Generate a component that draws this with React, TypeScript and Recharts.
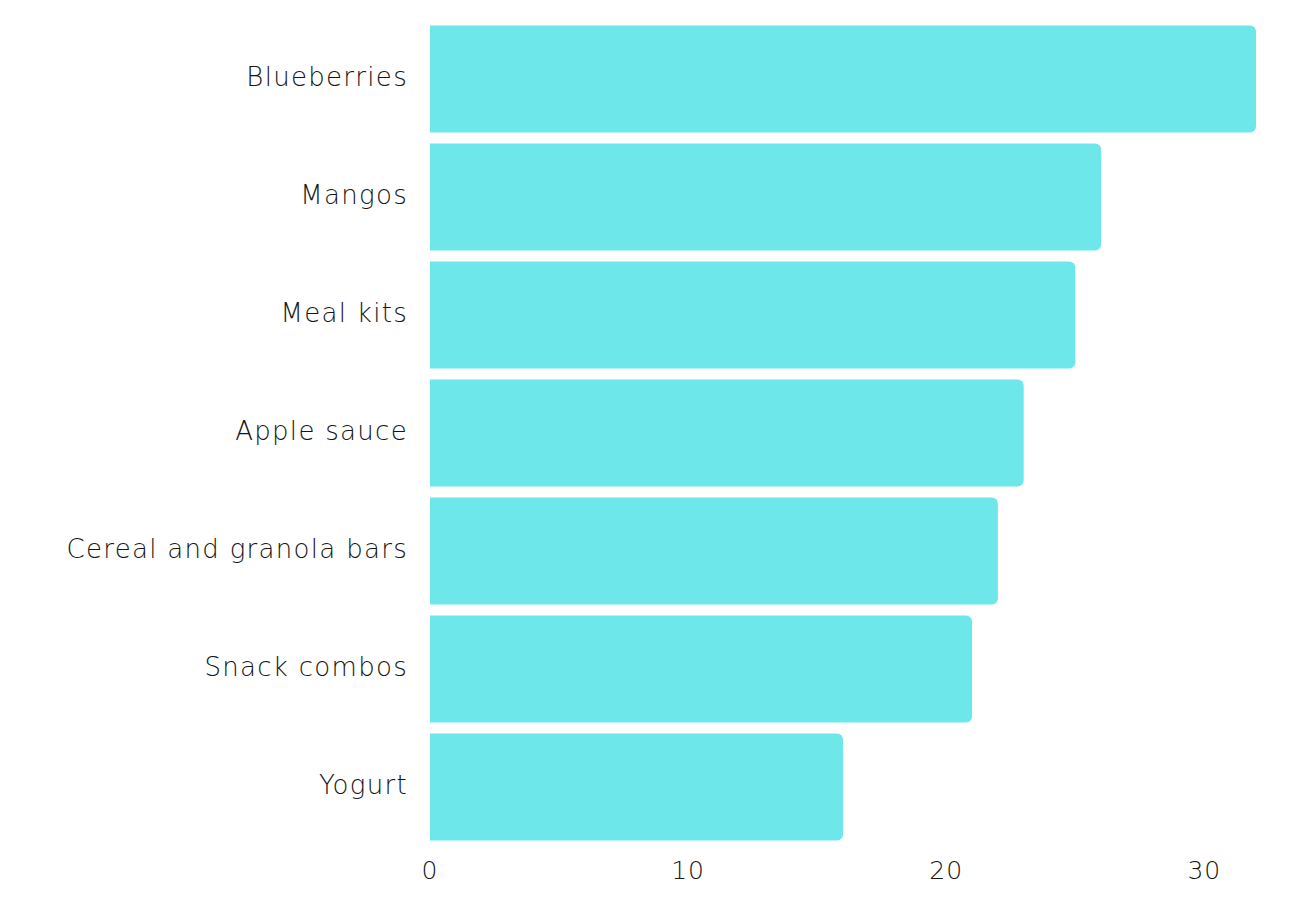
import React from 'react';
import { BarChart, Bar, XAxis, YAxis } from 'recharts';

// snack categories, top to bottom
const categories = [
  'Blueberries',
  'Mangos',
  'Meal kits',
  'Apple sauce',
  'Cereal and granola bars',
  'Snack combos',
  'Yogurt',
];
const values = [32, 26, 25, 23, 22, 21, 16];
const xTicks = [0, 10, 20, 30];

const data = categories.map((name, i) => ({ name, value: values[i] }));

const FONT = '"DejaVu Sans", sans-serif';
const BAR_COLOR = '#6de7ea';
const TEXT_COLOR = '#151515';

export default function App() {
  return (
    <div style={{ width: 1288, height: 898, background: '#fff' }}>
      <BarChart
        width={1288}
        height={898}
        data={data}
        layout="vertical"
        margin={{ top: 11.5, right: 40, bottom: 0, left: 0 }}
      >
        <XAxis
          type="number"
          domain={[0, 32]}
          ticks={xTicks}
          axisLine={false}
          tickLine={false}
          tickMargin={10}
          height={60.5}
          tick={{ fontSize: 25, fill: TEXT_COLOR, fontFamily: FONT, fontWeight: 200, letterSpacing: 1 }}
        />
        <YAxis
          type="category"
          dataKey="name"
          width={422}
          axisLine={false}
          tickLine={false}
          tickMargin={16}
          tick={{ fontSize: 26, fill: TEXT_COLOR, fontFamily: FONT, fontWeight: 200, letterSpacing: 1.3, dy: -2 }}
        />
        <Bar
          dataKey="value"
          fill={BAR_COLOR}
          barSize={107}
          radius={[0, 6, 6, 0]}
          isAnimationActive={false}
        />
      </BarChart>
    </div>
  );
}
